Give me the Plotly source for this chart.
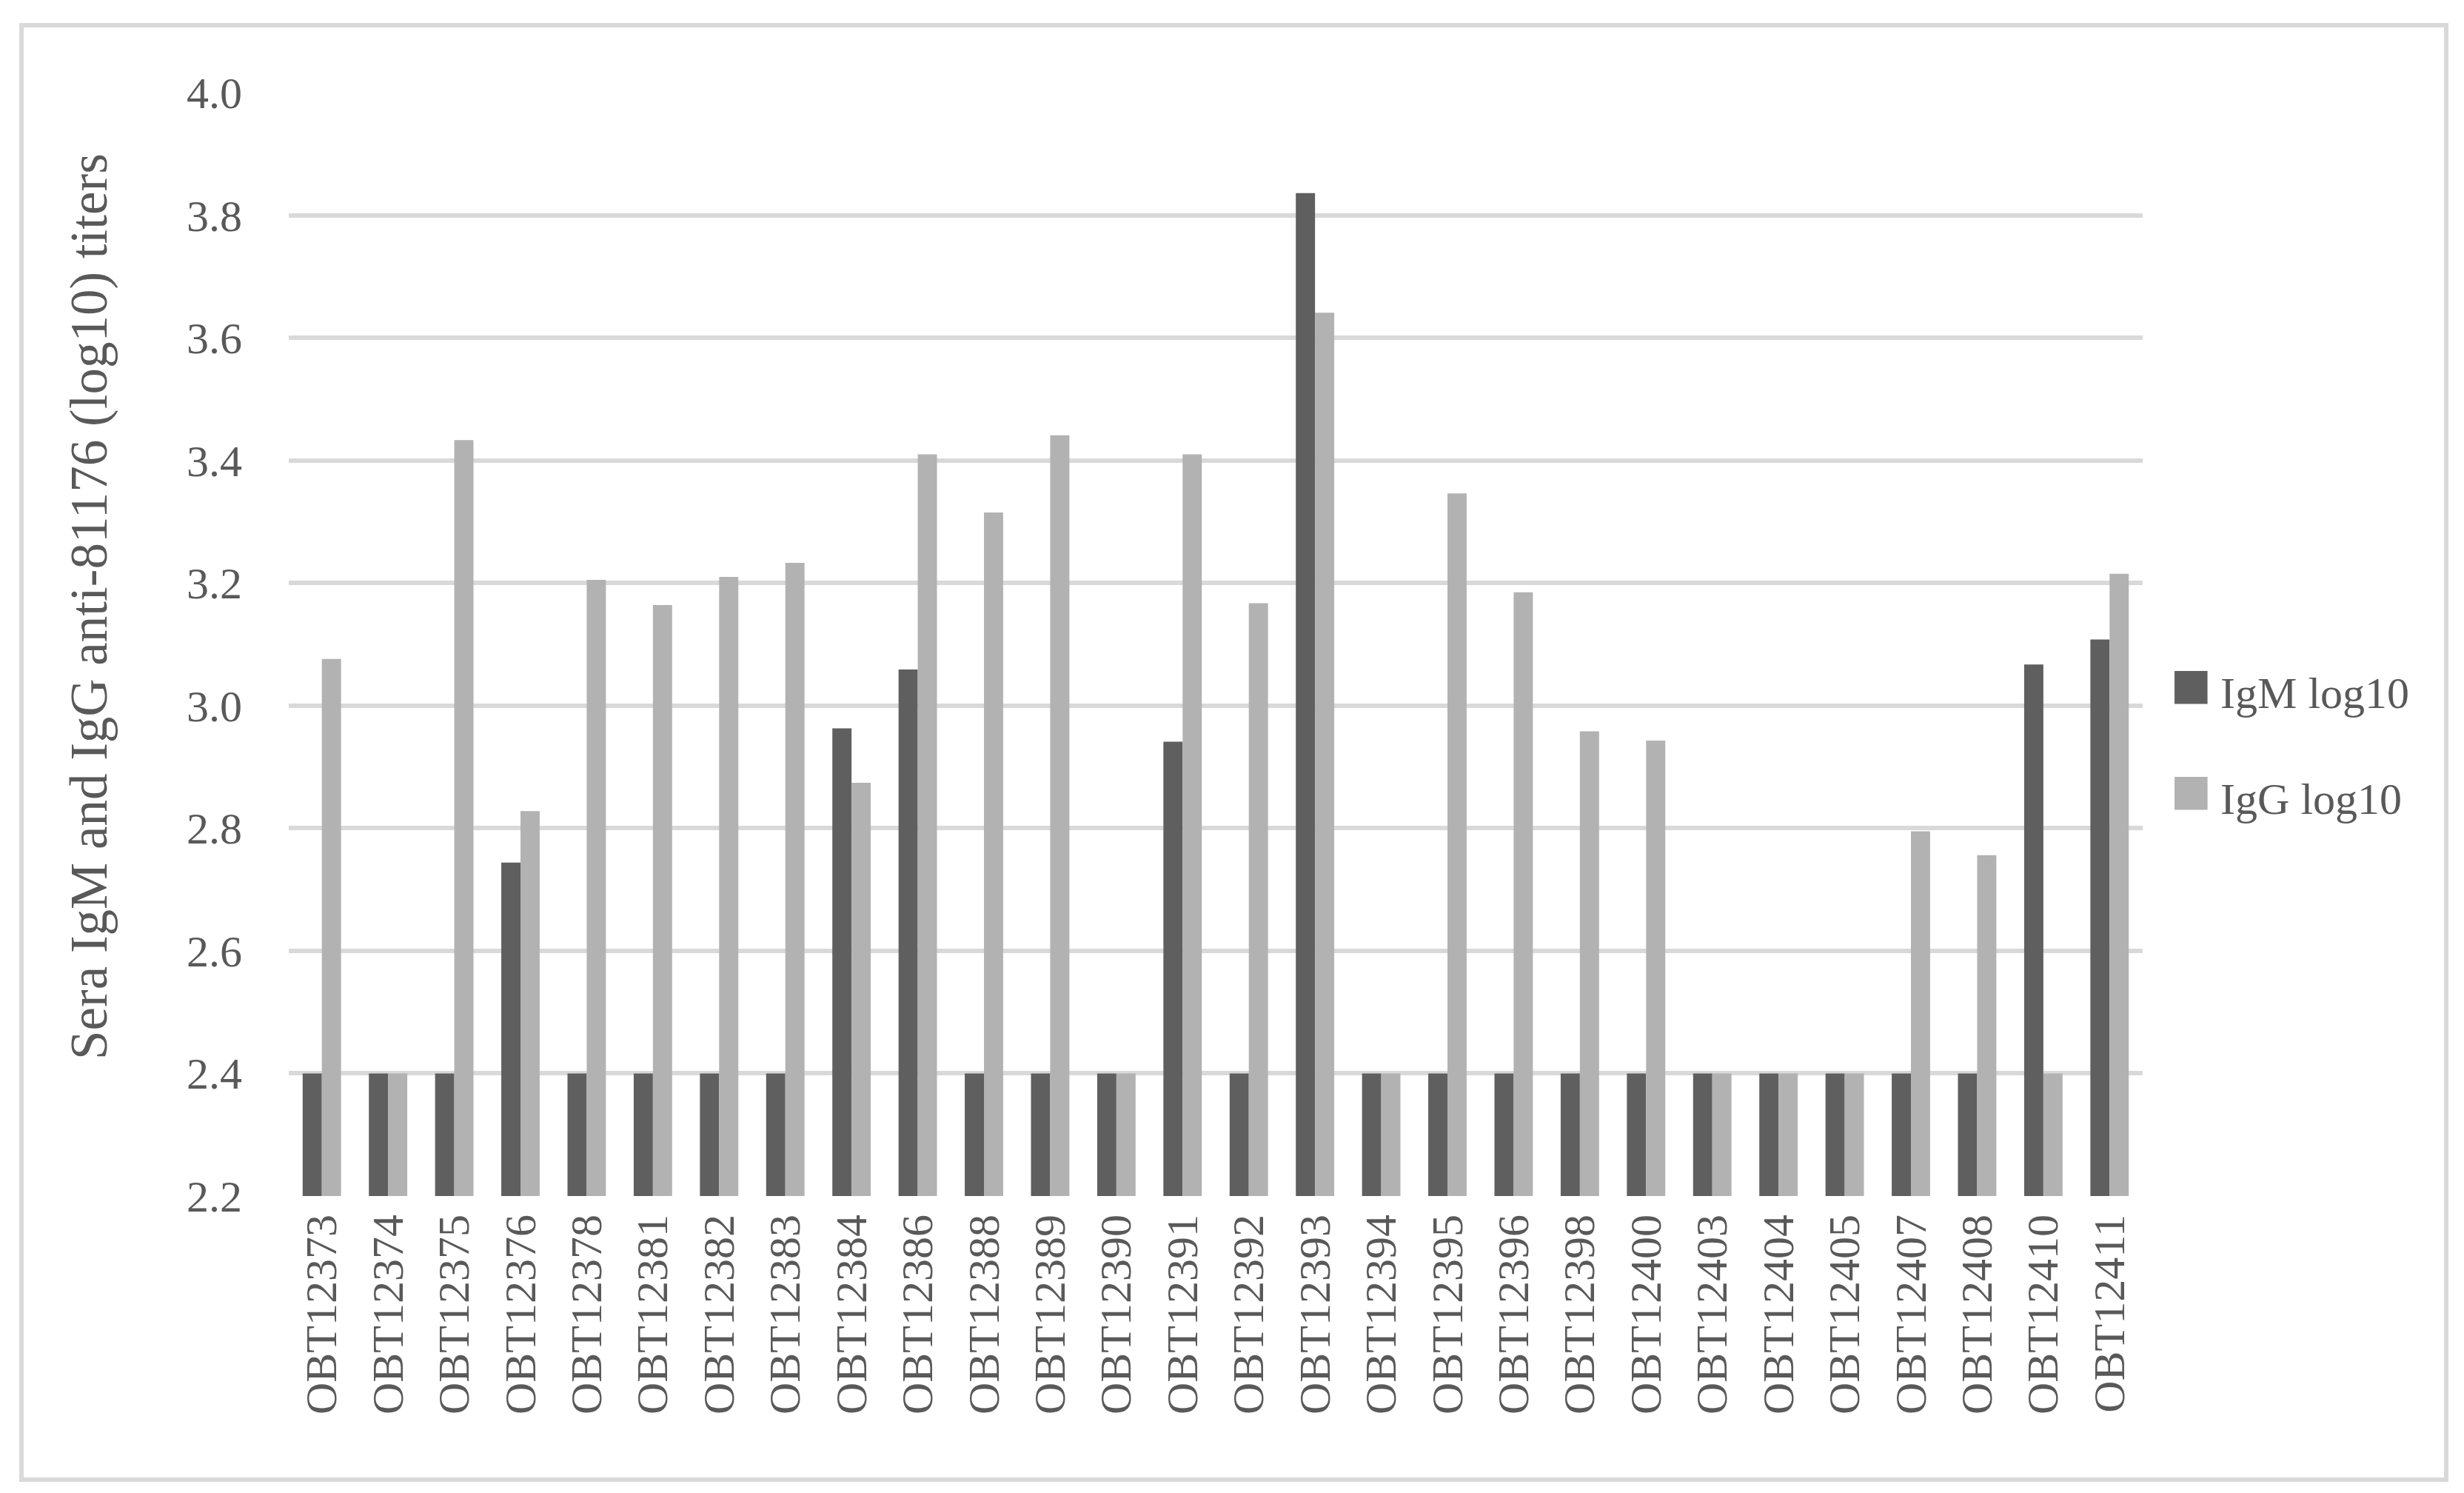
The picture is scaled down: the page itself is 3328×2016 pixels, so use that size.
import plotly.graph_objects as go

# sample ids (x categories)
samples = [
    "OBT12373", "OBT12374", "OBT12375", "OBT12376", "OBT12378", "OBT12381",
    "OBT12382", "OBT12383", "OBT12384", "OBT12386", "OBT12388", "OBT12389",
    "OBT12390", "OBT12391", "OBT12392", "OBT12393", "OBT12394", "OBT12395",
    "OBT12396", "OBT12398", "OBT12400", "OBT12403", "OBT12404", "OBT12405",
    "OBT12407", "OBT12408", "OBT12410", "OBT12411",
]

igm_log10 = [
    2.4, 2.4, 2.4, 2.744, 2.4, 2.4,
    2.4, 2.4, 2.963, 3.059, 2.4, 2.4,
    2.4, 2.941, 2.4, 3.836, 2.4, 2.4,
    2.4, 2.4, 2.4, 2.4, 2.4, 2.4,
    2.4, 2.4, 3.067, 3.108,
]

igg_log10 = [
    3.076, 2.4, 3.433, 2.828, 3.205, 3.164,
    3.210, 3.233, 2.874, 3.410, 3.315, 3.441,
    2.4, 3.410, 3.167, 3.641, 2.4, 3.346,
    3.185, 2.958, 2.943, 2.4, 2.4, 2.4,
    2.795, 2.756, 2.4, 3.215,
]

series_names = ["IgM log10", "IgG log10"]
colors = ["#5f5f5f", "#b2b2b2"]
y_title = "Sera IgM and IgG anti-81176 (log10) titers"

FONT = "Liberation Serif"
TEXT = "#595959"
W, H = 3328, 2016
ML, MR, MT, MB = 382, 442, 117, 409
pw = W - ML - MR
ph = H - MT - MB

fig = go.Figure()
for name, vals, col in zip(series_names, [igm_log10, igg_log10], colors):
    fig.add_trace(go.Bar(
        x=samples, y=vals, name=name, marker_color=col,
        marker_line_width=0, legendgroup=name, showlegend=False,
    ))
    # legend entry: big square swatch drawn as a glyph (plotly caps legend marker size)
    fig.add_trace(go.Scatter(
        x=[None], y=[None], mode="markers", legendgroup=name,
        name=f"<span style='color:{col};font-size:92px'>■</span>\u2009{name}",
        marker=dict(size=0, opacity=0, color="rgba(0,0,0,0)"),
    ))

# outer chart border
fig.add_shape(
    type="rect", xref="paper", yref="paper",
    x0=(21 - ML) / pw, x1=(3296 - ML) / pw,
    y0=-(1990 - (H - MB)) / ph, y1=1 + (MT - 26) / ph,
    line=dict(color="#d9d9d9", width=6), fillcolor="rgba(0,0,0,0)",
    layer="below",
)

# y axis title (sits a bit above the plot centre, as in the original)
fig.add_annotation(
    text=y_title, textangle=-90, showarrow=False,
    xref="paper", yref="paper", x=(113 - ML) / pw, y=(H - MB - 811) / ph,
    xanchor="center", yanchor="middle",
    font=dict(size=71, color=TEXT, family=FONT),
)

fig.update_layout(
    width=W, height=H,
    margin=dict(l=ML, r=MR, t=MT, b=MB, autoexpand=False),
    paper_bgcolor="white", plot_bgcolor="white",
    font=dict(family=FONT, size=60, color=TEXT),
    barmode="group", bargap=0.42, bargroupgap=0,
    legend=dict(
        x=0.999, y=0.41, xanchor="left", yanchor="middle",
        bgcolor="rgba(0,0,0,0)",
        font=dict(size=60, color=TEXT),
        traceorder="grouped", tracegroupgap=62,
        itemwidth=30,
    ),
    showlegend=True,
)

fig.update_xaxes(
    type="category", tickangle=-90, showgrid=False, zeroline=False,
    showline=False, ticks="", ticklabelstandoff=12, automargin=False,
    tickfont=dict(size=60, color=TEXT),
)
fig.update_yaxes(
    range=[2.2, 4.0], dtick=0.2, tick0=2.2, tickformat=".1f",
    showgrid=True, gridcolor="#d9d9d9", gridwidth=6,
    zeroline=False, showline=False, ticks="", ticklabelstandoff=62,
    automargin=False,
    tickfont=dict(size=60, color=TEXT),
)

fig.write_html("out.html")
